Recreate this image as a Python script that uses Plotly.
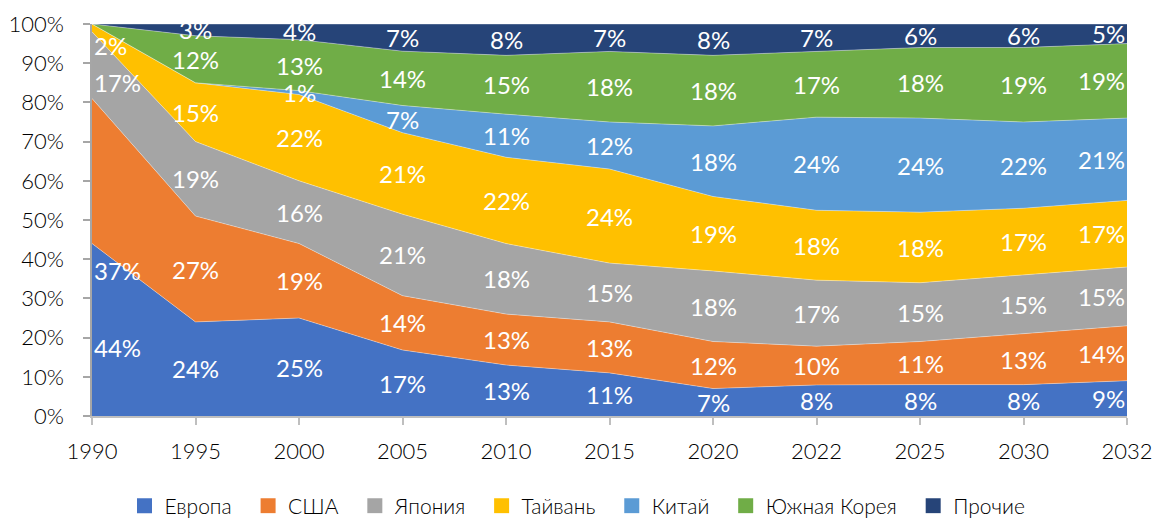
import plotly.graph_objects as go

years = ["1990", "1995", "2000", "2005", "2010", "2015", "2020", "2022", "2025", "2030", "2032"]

series_names = ["Европа", "США", "Япония", "Тайвань", "Китай", "Южная Корея", "Прочие"]
europe = [44, 24, 25, 17, 13, 11, 7, 8, 8, 8, 9]
usa = [37, 27, 19, 14, 13, 13, 12, 10, 11, 13, 14]
japan = [17, 19, 16, 21, 18, 15, 18, 17, 15, 15, 15]
taiwan = [2, 15, 22, 21, 22, 24, 19, 18, 18, 17, 17]
china = [0, 0, 1, 7, 11, 12, 18, 24, 24, 22, 21]
korea = [0, 12, 13, 14, 15, 18, 18, 17, 18, 19, 19]
others = [0, 3, 4, 7, 8, 7, 8, 7, 6, 6, 5]

colors = ["#4472C4", "#ED7D31", "#A5A5A5", "#FFC000", "#5B9BD5", "#70AD47", "#264478"]

# label heights (in %) used for the first column, where labels sit against the axis
first_label_y = [17.6, 37.2, 85.0, 94.6]

all_series = [europe, usa, japan, taiwan, china, korea, others]
xs = list(range(len(years)))

fig = go.Figure()
for name, vals, col in zip(series_names, all_series, colors):
    fig.add_trace(go.Scatter(
        x=xs, y=vals, name=name, mode="lines",
        stackgroup="one", groupnorm="percent",
        line=dict(width=0.6, color="rgba(255,255,255,0.6)"),
        fillcolor=col, showlegend=False,
        hoverinfo="skip",
    ))

# square swatches for the legend (trailing no-break spaces widen the gap between entries)
for j, (name, col) in enumerate(zip(series_names, colors)):
    pad = "" if j == len(series_names) - 1 else "\u00a0\u00a0"
    fig.add_trace(go.Scatter(
        x=[None], y=[None], name=name + pad, mode="markers",
        marker=dict(symbol="square", size=15, color=col),
        showlegend=True,
    ))

# data labels centred in each band
totals = [sum(s[i] for s in all_series) for i in xs]
annotations = []
for i in xs:
    base = 0.0
    for k, vals in enumerate(all_series):
        v = vals[i]
        share = 100.0 * v / totals[i]
        mid = base + share / 2
        base += share
        if v == 0:
            continue
        xanchor = "center"
        xpos = i
        if i == 0:
            xanchor = "left"
            xpos = 0.0
            mid = first_label_y[k]
        elif i == len(xs) - 1:
            xanchor = "right"
            xpos = i
        annotations.append(dict(
            x=xpos, y=mid, text=f"{v}%", showarrow=False,
            xanchor=xanchor, yanchor="middle",
            font=dict(family="Lato", size=24, color="white"),
        ))

tick_font = dict(family="Lato", size=22, color="#000000", weight=300)

fig.update_layout(
    width=1155, height=519,
    margin=dict(l=92, r=28, t=24, b=103, autoexpand=False),
    paper_bgcolor="white", plot_bgcolor="white",
    font=dict(family="Lato", color="#000000"),
    annotations=annotations,
    showlegend=True,
    legend=dict(
        orientation="h", x=0.5, xanchor="center", xref="container",
        y=(519 - 506) / 519, yanchor="middle", yref="container",
        font=dict(family="Lato", size=21, color="#000000", weight=300),
        traceorder="normal", itemwidth=30,
    ),
    xaxis=dict(
        range=[0, len(xs) - 1], tickmode="array", tickvals=xs, ticktext=years,
        showgrid=False, zeroline=False,
        showline=True, linecolor="#BFBFBF", linewidth=1.5,
        ticks="outside", ticklen=7, tickcolor="#BFBFBF", tickwidth=1.5,
        tickfont=tick_font,
        ticklabeloverflow="allow", ticklabelstandoff=8,
    ),
    yaxis=dict(
        range=[0, 100], tickvals=list(range(0, 101, 10)),
        ticktext=[f"{v}%" for v in range(0, 101, 10)],
        showgrid=False, zeroline=False,
        showline=True, linecolor="#A6A6A6", linewidth=1.5,
        ticks="outside", ticklen=7, tickcolor="#A6A6A6", tickwidth=1.5,
        tickfont=tick_font,
        ticklabeloverflow="allow", ticklabelstandoff=15,
    ),
)

fig.write_html("out.html")
